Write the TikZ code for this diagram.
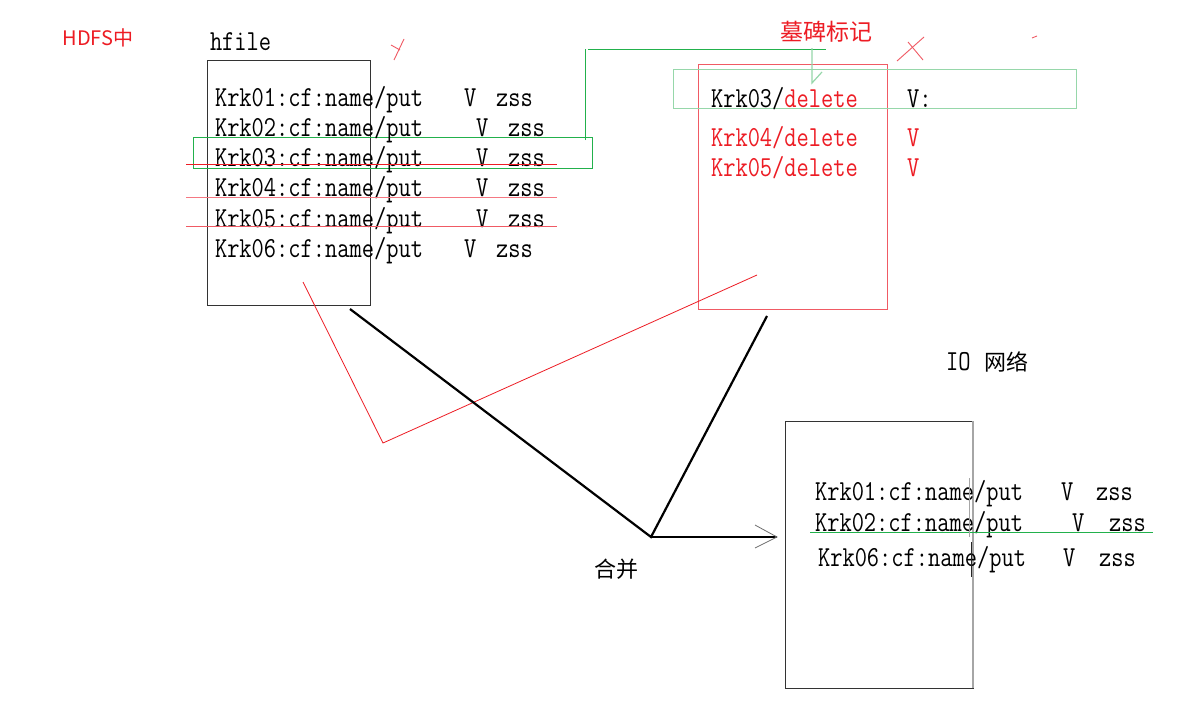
\documentclass[tikz,border=0pt]{standalone}
\usepackage{fontspec}
\usepackage{graphicx}
\newfontfamily\cjk{Noto Sans CJK SC}
\definecolor{pred}{RGB}{237,28,36}
\definecolor{lred}{RGB}{240,90,100}
\definecolor{pink}{RGB}{245,120,130}
\definecolor{pgreen}{RGB}{34,177,76}
\definecolor{lgreen}{RGB}{150,215,170}
\definecolor{gline}{RGB}{110,110,110}
\newcommand\mt[1]{\scalebox{0.82}[1]{\fontsize{29}{29}\selectfont\ttfamily #1}}
\tikzset{
  mono/.style={anchor=base west, inner sep=0pt, outer sep=0pt, font=\fontsize{29}{29}\selectfont},
  cjkt/.style={inner sep=0pt, font=\cjk\fontsize{22}{22}\selectfont},
  boxline/.style={draw=black!80, line width=1pt},
  thickline/.style={line width=2.2pt, black},
}
\begin{document}
\begin{tikzpicture}[x=1pt,y=-1pt]
\useasboundingbox[fill=white] (0,0) rectangle (1185,707);

% labels
\node[cjkt, text=pred, font=\cjk\fontsize{20}{20}\selectfont] (hdfs) at (98,38) {HDFS中};
\node[mono] (hfile) at (210,50) {\mt{hfile}};

% hfile box
\node[boxline, minimum width=163pt, minimum height=245pt, inner sep=0pt] (hbox) at (288.5,182.5) {};

% highlight box around Krk03 in hfile
\node[draw=pgreen, line width=1pt, minimum width=399pt, minimum height=31pt, inner sep=0pt] (gbox) at (392.5,152.5) {};

% hfile rows
\foreach \r/\y/\vx/\zx in {01/106/464/496, 02/136/476/508, 03/166/476/508, 04/196/476/508, 05/227/476/508, 06/257/464/496}{
  \node[mono] (k\r) at (215,\y) {\mt{Krk\r:cf:name/put}};
  \node[mono] (v\r) at (\vx,\y) {\mt{V}};
  \node[mono] (z\r) at (\zx,\y) {\mt{zss}};
}

% strike lines
\coordinate (s3a) at (186,164); \coordinate (s3b) at (557,164);
\coordinate (s4a) at (186,197); \coordinate (s4b) at (557,197);
\coordinate (s5a) at (186,226); \coordinate (s5b) at (557,226);
\draw[pred, line width=1pt] (s3a) -- (s3b);
\draw[pink, line width=1pt] (s4a) -- (s4b);
\draw[lred, line width=1pt] (s5a) -- (s5b);

% tombstone box
\node[draw=lred, line width=1pt, minimum width=189pt, minimum height=245pt, inner sep=0pt] (tbox) at (792.5,186.5) {};
\node[draw=lgreen, line width=1pt, minimum width=403pt, minimum height=39pt, inner sep=0pt] (tgbox) at (874.5,88.5) {};
\node[cjkt, text=pred, font=\cjk\fontsize{23}{23}\selectfont] (mubei) at (826,32) {墓碑标记};

\node[mono] (d3) at (711,107) {\mt{Krk03/\textcolor{pred}{delete}}};
\node[mono] (dv3) at (907,107) {\mt{V:}};
\node[mono, text=pred] (d4) at (711,146) {\mt{Krk04/delete}};
\node[mono, text=pred] (dv4) at (907,146) {\mt{V}};
\node[mono, text=pred] (d5) at (711,176) {\mt{Krk05/delete}};
\node[mono, text=pred] (dv5) at (907,176) {\mt{V}};

% green pointer from hfile row to tombstone
\coordinate (g1) at (585,140);
\coordinate (g2) at (585,49);
\coordinate (g3) at (588,49);
\coordinate (g4) at (826,49);
\coordinate (g5) at (812,48);
\coordinate (g6) at (812,83);
\coordinate (g7) at (822,72);
\draw[pgreen, line width=1pt] (g1) -- (g2);
\draw[pgreen, line width=1pt] (g3) -- (g4);
\draw[lgreen, line width=1.2pt] (g5) -- (g6) -- (g7);

% small red marks
\coordinate (y1) at (394,60); \coordinate (y2) at (404,39);
\coordinate (y3) at (391,45); \coordinate (y4) at (400,50);
\draw[lred, line width=0.9pt] (y1) -- (y2);
\draw[lred, line width=0.9pt] (y3) -- (y4);
\coordinate (x1) at (897,61); \coordinate (x2) at (924,37);
\coordinate (x3) at (908,42); \coordinate (x4) at (923,60);
\draw[lred, line width=0.9pt] (x1) -- (x2);
\draw[lred, line width=0.9pt] (x3) -- (x4);
\coordinate (t1) at (1032,38); \coordinate (t2) at (1037,36);
\draw[lred, line width=0.9pt] (t1) -- (t2);

% red V stroke
\coordinate (rv1) at (303,282);
\coordinate (rv2) at (383,443);
\coordinate (rv3) at (757,275);
\draw[pred, line width=0.8pt] (rv1) -- (rv2) -- (rv3);

% merge lines
\coordinate (m1) at (350,309);
\coordinate (m2) at (767,316);
\coordinate (mv) at (651,537);
\coordinate (ma) at (777,537);
\coordinate (ah1) at (755,525);
\coordinate (ah2) at (755,548);
\draw[thickline] (m1) -- (mv) -- (m2);
\draw[thickline] (mv) -- (ma);
\draw[gline, line width=0.8pt] (ah1) -- (ma) -- (ah2);
\node[cjkt, font=\cjk\fontsize{22}{22}\selectfont] (hebing) at (616,569) {合并};

\node[anchor=base west, inner sep=0pt] (io) at (946,370) {\mt{IO}\hspace{14pt}{\cjk\fontsize{22}{22}\selectfont 网络}};

% output box
\node[draw=black!80, line width=1pt, minimum width=188pt, minimum height=267pt, inner sep=0pt] (obox) at (879,554.5) {};
\coordinate (ob1) at (973,421); \coordinate (ob2) at (973,688);
\draw[black!35, line width=1.5pt] (ob1) -- (ob2);

\node[mono] (o1) at (815,500) {\mt{Krk01:cf:name/put}};
\node[mono] (ov1) at (1061,500) {\mt{V}};
\node[mono] (oz1) at (1096,500) {\mt{zss}};
\node[mono] (o2) at (815,531) {\mt{Krk02:cf:name/put}};
\node[mono] (ov2) at (1072,531) {\mt{V}};
\node[mono] (oz2) at (1109,531) {\mt{zss}};
\node[mono] (o6) at (818,566) {\mt{Krk06:cf:name/put}};
\node[mono] (ov6) at (1063,566) {\mt{V}};
\node[mono] (oz6) at (1099,566) {\mt{zss}};

\coordinate (ol1) at (810,532); \coordinate (ol2) at (1153,532);
\draw[pgreen, line width=1pt] (ol1) -- (ol2);
\coordinate (c1) at (969,478); \coordinate (c2) at (969,537);
\draw[black!35, line width=1pt] (c1) -- (c2);
\coordinate (c3) at (971,542); \coordinate (c4) at (971,577);
\draw[black!85, line width=1pt] (c3) -- (c4);
\end{tikzpicture}
\end{document}
